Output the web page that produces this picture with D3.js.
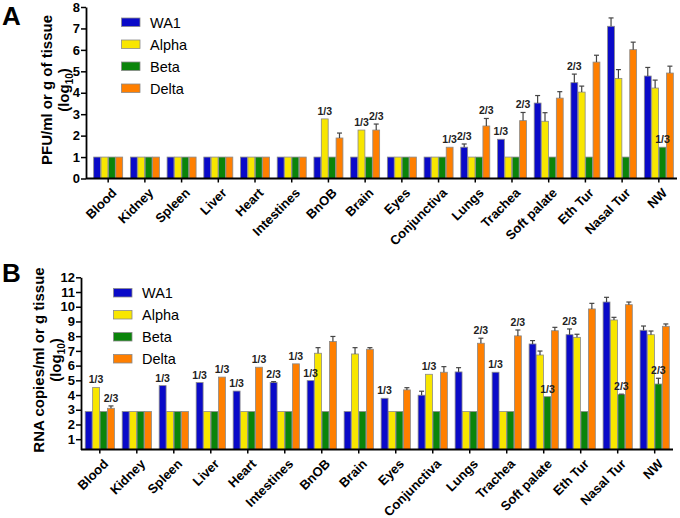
<!DOCTYPE html>
<html>
<head>
<meta charset="utf-8">
<script src="https://cdn.jsdelivr.net/npm/d3@7"></script>
<style>
  body { margin: 0; background: #fff; }
  svg { display: block; font-family: "Liberation Sans", Arial, sans-serif; }
</style>
</head>
<body>
<svg id="chart" width="680" height="518"></svg>
<script>
// ---------- DATA ----------
const categories = ["Blood","Kidney","Spleen","Liver","Heart","Intestines","BnOB","Brain","Eyes","Conjunctiva","Lungs","Trachea","Soft palate","Eth Tur","Nasal Tur","NW"];
const seriesNames = ["WA1","Alpha","Beta","Delta"];
const seriesColors = ["#0a0ac8","#f8e600","#0a840a","#ff7f00"];

// Panel A: PFU (log10)
const aWA1   = [1,1,1,1,1,1,1,1,1,1,1.46,1.83,3.52,4.47,7.10,4.78];
const aAlpha = [1,1,1,1,1,1,2.78,2.26,1,1,1,1,2.67,4.03,4.67,4.22];
const aBeta  = [1,1,1,1,1,1,1,1,1,1,1,1,1,1,1,1.46];
const aDelta = [1,1,1,1,1,1,1.89,2.26,1,1.46,2.45,2.70,3.75,5.43,6.01,4.92];
const aErrWA1   = [0,0,0,0,0,0,0,0,0,0,0.15,0,0.35,0.40,0.39,0.40];
const aErrAlpha = [0,0,0,0,0,0,0,0,0,0,0,0,0.40,0.28,0.41,0.37];
const aErrBeta  = [0,0,0,0,0,0,0,0,0,0,0,0,0,0,0,0];
const aErrDelta = [0,0,0,0,0,0,0.23,0.28,0,0,0.35,0.38,0.30,0.32,0.35,0.32];
const aNotes = [
  ["BnOB","Alpha","1/3"],["Brain","Alpha","1/3"],["Brain","Delta","2/3"],
  ["Conjunctiva","Delta","1/3"],["Lungs","WA1","2/3"],["Lungs","Delta","2/3"],
  ["Trachea","WA1","1/3"],["Trachea","Delta","2/3"],["Eth Tur","WA1","2/3"],["NW","Beta","1/3"]
];
const aTicks = [0,1,2,3,4,5,6,7,8];

// Panel B: RNA copies (log10)
const bWA1   = [2.88,2.88,4.64,4.85,4.27,4.85,4.98,2.88,3.78,3.99,5.57,5.55,7.47,8.10,10.32,8.40];
const bAlpha = [4.52,2.88,2.88,2.88,2.88,2.88,6.84,6.79,2.88,5.41,2.88,2.88,6.72,7.92,9.10,8.10];
const bBeta  = [2.88,2.88,2.88,2.88,2.88,2.88,2.88,2.88,2.88,2.88,2.88,2.88,3.89,2.88,4.03,4.75];
const bDelta = [3.10,2.88,2.88,5.22,5.89,6.12,7.64,7.11,4.35,5.55,7.52,8.02,8.37,9.85,10.14,8.67];
const bErrWA1   = [0,0,0,0,0,0.06,0,0,0,0.27,0.29,0,0.23,0.39,0.32,0.29];
const bErrAlpha = [0,0,0,0,0,0,0.38,0.43,0,0,0,0,0.27,0.21,0.18,0.25];
const bErrBeta  = [0,0,0,0,0,0,0,0,0,0,0,0,0,0,0.03,0.39];
const bErrDelta = [0.16,0,0,0,0,0,0.34,0.11,0.15,0.38,0.34,0.40,0.23,0.38,0.18,0.16];
const bNotes = [
  ["Blood","Alpha","1/3"],["Blood","Delta","2/3"],["Spleen","WA1","1/3"],
  ["Liver","WA1","1/3"],["Liver","Delta","1/3"],["Heart","WA1","1/3"],["Heart","Delta","1/3"],
  ["Intestines","WA1","2/3"],["Intestines","Delta","1/3"],["BnOB","WA1","1/3"],
  ["Eyes","WA1","1/3"],["Conjunctiva","Alpha","1/3"],["Lungs","Delta","2/3"],
  ["Trachea","WA1","1/3"],["Trachea","Delta","2/3"],["Soft palate","Beta","1/3"],
  ["Eth Tur","WA1","2/3"],["Nasal Tur","Beta","2/3"],["NW","Beta","2/3"]
];
const bTicks = [1,2,3,4,5,6,7,8,9,10,11,12];

// ---------- DRAW ----------
const svg = d3.select("#chart");

function panel(cfg) {
  const g = svg.append("g");
  const x = d3.scaleBand().domain(categories).range(cfg.xRange).paddingInner(0.21).paddingOuter(0.1);
  const xs = d3.scaleBand().domain(seriesNames).range([0, x.bandwidth()]).paddingInner(0.07);
  const y = d3.scaleLinear().domain(cfg.yDomain).range(cfg.yRange);
  const color = d3.scaleOrdinal().domain(seriesNames).range(seriesColors);
  const y0 = y(cfg.yDomain[0]);

  const rows = [];
  seriesNames.forEach((s, si) => {
    categories.forEach((c, ci) => {
      rows.push({cat: c, ser: s, v: cfg.values[si][ci], e: cfg.errors[si][ci]});
    });
  });

  // bars
  g.selectAll("rect.bar").data(rows).join("rect")
    .attr("x", d => x(d.cat) + xs(d.ser))
    .attr("y", d => y(d.v))
    .attr("width", xs.bandwidth())
    .attr("height", d => y0 - y(d.v))
    .attr("fill", d => color(d.ser))
    .attr("stroke", "#8a8a8a")
    .attr("stroke-width", 0.8);

  // error bars (upper)
  const eg = g.selectAll("g.err").data(rows.filter(d => d.e > 0)).join("g").attr("stroke", "#444").attr("stroke-width", 1.2);
  eg.append("line")
    .attr("x1", d => x(d.cat) + xs(d.ser) + xs.bandwidth() / 2)
    .attr("x2", d => x(d.cat) + xs(d.ser) + xs.bandwidth() / 2)
    .attr("y1", d => y(d.v)).attr("y2", d => y(d.v + d.e));
  eg.append("line")
    .attr("x1", d => x(d.cat) + xs(d.ser) + xs.bandwidth() / 2 - 2.5)
    .attr("x2", d => x(d.cat) + xs(d.ser) + xs.bandwidth() / 2 + 2.5)
    .attr("y1", d => y(d.v + d.e)).attr("y2", d => y(d.v + d.e));

  // notes
  const lookup = {};
  rows.forEach(d => lookup[d.cat + "|" + d.ser] = d);
  g.selectAll("text.note").data(cfg.notes).join("text")
    .attr("x", n => x(n[0]) + xs(n[1]) + xs.bandwidth() / 2)
    .attr("y", n => { const d = lookup[n[0] + "|" + n[1]]; return y(d.v + d.e) - 4; })
    .attr("text-anchor", "middle")
    .attr("font-size", 10.5).attr("font-weight", "bold").attr("fill", "#222")
    .text(n => n[2]);

  // y axis
  const ya = g.append("g").attr("transform", `translate(${cfg.axisX},0)`)
    .call(d3.axisLeft(y).tickValues(cfg.ticks).tickSize(5).tickSizeOuter(0).tickFormat(d3.format("d")));
  ya.select(".domain").attr("stroke", "#000").attr("stroke-width", 1.8);
  ya.selectAll(".tick line").attr("stroke", "#000").attr("stroke-width", 1.5);
  ya.selectAll(".tick text").attr("font-size", 13).attr("font-weight", "bold").attr("fill", "#000")
    .attr("font-family", "Liberation Sans, Arial, sans-serif").attr("x", -6);

  // x axis
  const xa = g.append("g").attr("transform", `translate(0,${y0})`)
    .call(d3.axisBottom(x).tickSize(4).tickSizeOuter(0));
  xa.select(".domain").attr("stroke", "#000").attr("stroke-width", 1.8)
    .attr("d", `M${cfg.axisX},0H${cfg.xRange[1]}`);
  xa.selectAll(".tick line").attr("stroke", "#000").attr("stroke-width", 1.5);
  xa.selectAll(".tick text")
    .attr("font-size", 13).attr("font-weight", "bold").attr("fill", "#000")
    .attr("font-family", "Liberation Sans, Arial, sans-serif")
    .attr("text-anchor", "end")
    .attr("transform", "translate(6,12) rotate(-45)")
    .attr("x", 0).attr("y", 0).attr("dy", "0.35em");

  // axis title
  const t = g.append("text")
    .attr("transform", `translate(${cfg.titleX},${cfg.titleY}) rotate(-90)`)
    .attr("text-anchor", "middle").attr("font-size", 15).attr("font-weight", "bold");
  t.append("tspan").attr("x", 0).attr("dy", 0).text(cfg.title);
  const t2 = g.append("text")
    .attr("transform", `translate(${cfg.titleX + 17},${cfg.titleY}) rotate(-90)`)
    .attr("text-anchor", "middle").attr("font-size", 15).attr("font-weight", "bold");
  t2.append("tspan").text("(log");
  t2.append("tspan").attr("font-size", 10).attr("dy", 4).text("10");
  t2.append("tspan").attr("dy", -4).text(")");

  // legend
  const lg = g.append("g");
  seriesNames.forEach((s, i) => {
    const ly = cfg.legendY + i * cfg.legendStep;
    lg.append("rect").attr("x", cfg.legendX).attr("y", ly - 4.5).attr("width", 18.5).attr("height", 8.5)
      .attr("fill", color(s)).attr("stroke", "#8a8a8a").attr("stroke-width", 0.8);
    lg.append("text").attr("x", cfg.legendX + 28.5).attr("y", ly).attr("dy", "0.35em")
      .attr("font-size", 14.5).attr("fill", "#000").text(s);
  });

  // panel letter
  g.append("text").attr("x", 2).attr("y", cfg.letterY).attr("font-size", 26).attr("font-weight", "bold").text(cfg.letter);
}

panel({
  letter: "A", letterY: 25,
  values: [aWA1, aAlpha, aBeta, aDelta],
  errors: [aErrWA1, aErrAlpha, aErrBeta, aErrDelta],
  notes: aNotes, ticks: aTicks,
  xRange: [90, 677], axisX: 86,
  yDomain: [0, 8], yRange: [178.5, 7],
  title: "PFU/ml or g of tissue", titleX: 52, titleY: 90,
  legendX: 121.5, legendY: 22.5, legendStep: 22
});

panel({
  letter: "B", letterY: 282,
  values: [bWA1, bAlpha, bBeta, bDelta],
  errors: [bErrWA1, bErrAlpha, bErrBeta, bErrDelta],
  notes: bNotes, ticks: bTicks,
  xRange: [81.5, 673], axisX: 81,
  yDomain: [0.3, 12], yRange: [449.5, 277.3],
  title: "RNA copies/ml or g tissue", titleX: 44, titleY: 360,
  legendX: 113.5, legendY: 293, legendStep: 22
});
</script>
</body>
</html>
